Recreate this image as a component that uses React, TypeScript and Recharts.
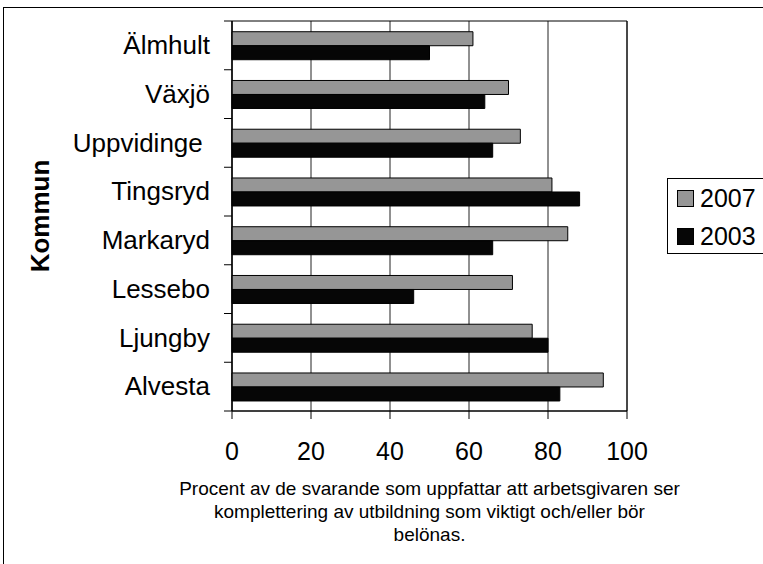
import { Bar, BarChart, CartesianGrid, Label, Legend, ReferenceArea, XAxis, YAxis } from "recharts";

const kommuner = ["Älmhult", "Växjö", "Uppvidinge ", "Tingsryd", "Markaryd", "Lessebo", "Ljungby", "Alvesta"];
const andel2007 = [61, 70, 73, 81, 85, 71, 76, 94];
const andel2003 = [50, 64, 66, 88, 66, 46, 80, 83];
const xTicks = [0, 20, 40, 60, 80, 100];
const xTitleLines = [
  "Procent av de svarande som uppfattar att arbetsgivaren ser",
  "komplettering av utbildning som viktigt och/eller bör",
  "belönas.",
];
const yTitle = "Kommun";

const rows = kommuner.map((kommun, i) => ({ kommun, y2007: andel2007[i], y2003: andel2003[i] }));

const FONT = "'Liberation Sans', Arial, sans-serif";

function KommunTick(props: any) {
  const { x, y, payload, index } = props;
  const half = payload?.offset ?? 0;
  const lineX1 = x + 14;
  const lineX2 = x + 22;
  return (
    <g>
      <text
        x={x}
        y={y}
        dy="0.34em"
        textAnchor="end"
        fontSize={26}
        fontFamily={FONT}
        fill="#000"
        style={{ whiteSpace: "pre" }}
      >
        {payload.value}
      </text>
      {index === 0 && <line x1={lineX1} x2={lineX2} y1={y - half} y2={y - half} stroke="#000" />}
      <line x1={lineX1} x2={lineX2} y1={y + half} y2={y + half} stroke="#000" />
    </g>
  );
}

function XTitle(props: any) {
  const vb = props.viewBox || {};
  const cx = vb.x + vb.width / 2;
  return (
    <text x={cx} y={vb.y + 84} textAnchor="middle" fontSize={19} fontFamily={FONT} fill="#000">
      {xTitleLines.map((line, i) => (
        <tspan key={i} x={cx} dy={i === 0 ? 0 : 23}>
          {line}
        </tspan>
      ))}
    </text>
  );
}

function YTitle(props: any) {
  const vb = props.viewBox || {};
  const cx = vb.x + 30;
  const cy = vb.y + vb.height / 2;
  return (
    <text
      x={cx}
      y={cy}
      transform={`rotate(-90, ${cx}, ${cy})`}
      textAnchor="middle"
      dominantBaseline="central"
      fontSize={26}
      fontWeight="bold"
      fontFamily={FONT}
      fill="#000"
    >
      {yTitle}
    </text>
  );
}

function SeriesLegend() {
  const items = [
    { name: "2007", fill: "#969696" },
    { name: "2003", fill: "#060606" },
  ];
  return (
    <div style={{ fontFamily: FONT }}>
      {items.map((it) => (
        <div key={it.name} style={{ display: "flex", alignItems: "center", height: 38 }}>
          <span
            style={{
              display: "inline-block",
              width: 15,
              height: 15,
              marginLeft: 9,
              marginRight: 6,
              background: it.fill,
              border: "1px solid #000",
            }}
          />
          <span style={{ fontSize: 25, color: "#000" }}>{it.name}</span>
        </div>
      ))}
    </div>
  );
}

export default function App() {
  return (
    <div
      style={{
        position: "absolute",
        left: 0,
        top: 0,
        width: 763,
        height: 564,
        overflow: "hidden",
        background: "#fff",
      }}
    >
      <div
        style={{
          position: "absolute",
          left: 3,
          top: 7,
          width: 800,
          height: 600,
          borderTop: "1px solid #000",
          borderLeft: "1px solid #000",
        }}
      />
      <BarChart
        width={763}
        height={564}
        data={rows}
        layout="vertical"
        margin={{ top: 21, right: 136, bottom: 93, left: 10 }}
        barCategoryGap="22%"
        barGap={0}
      >
        <CartesianGrid horizontal={false} stroke="#222" />
        <ReferenceArea x1={0} x2={100} fill="none" stroke="#000" strokeWidth={1} ifOverflow="visible" />
        <XAxis
          type="number"
          domain={[0, 100]}
          ticks={xTicks}
          height={60}
          tickSize={8}
          tickMargin={23}
          axisLine={{ stroke: "#000" }}
          tickLine={{ stroke: "#000" }}
          tick={{ fontSize: 25, fill: "#000", fontFamily: FONT }}
        >
          <Label content={<XTitle />} />
        </XAxis>
        <YAxis
          type="category"
          dataKey="kommun"
          width={222}
          tickSize={8}
          tickMargin={14}
          tickLine={false}
          axisLine={{ stroke: "#000" }}
          tick={<KommunTick />}
          interval={0}
        >
          <Label content={<YTitle />} />
        </YAxis>
        <Legend
          layout="vertical"
          align="center"
          verticalAlign="middle"
          content={<SeriesLegend />}
          wrapperStyle={{
            left: 667,
            top: 178,
            width: 110,
            height: 76,
            border: "1px solid #000",
            background: "#fff",
            boxSizing: "border-box",
          }}
        />
        <Bar dataKey="y2007" name="2007" fill="#969696" stroke="#000" strokeWidth={1} isAnimationActive={false} />
        <Bar dataKey="y2003" name="2003" fill="#060606" stroke="#000" strokeWidth={1} isAnimationActive={false} />
      </BarChart>
    </div>
  );
}
